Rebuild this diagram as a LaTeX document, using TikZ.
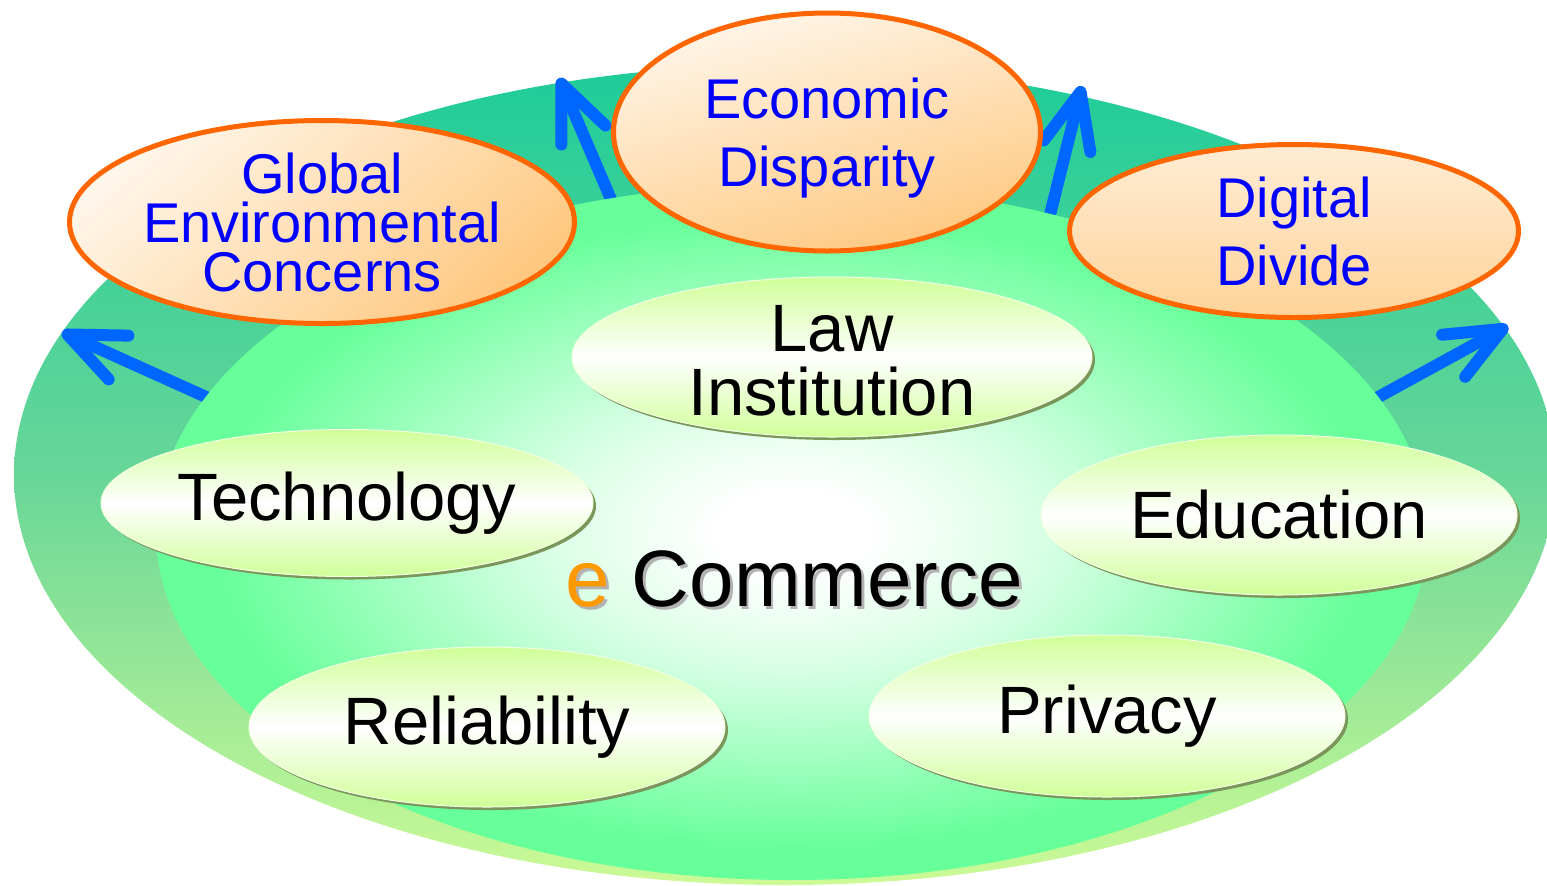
\documentclass[tikz,border=0pt]{standalone}
\usepackage{fontspec}
\setmainfont{Liberation Sans}
\usetikzlibrary{shapes.geometric,arrows.meta,shadows}
\definecolor{ringtop}{RGB}{30,204,153}
\definecolor{ringmid}{RGB}{104,214,152}
\definecolor{ringbot}{RGB}{204,250,150}
\definecolor{coregreen}{RGB}{102,255,153}
\definecolor{corepale}{RGB}{215,255,228}
\definecolor{podlime}{RGB}{208,255,153}
\definecolor{podrim}{RGB}{122,150,90}
\definecolor{issueline}{RGB}{255,102,0}
\definecolor{issuefill}{RGB}{255,200,128}
\definecolor{issuelight}{RGB}{255,246,234}
\definecolor{issueblue}{RGB}{0,0,255}
\definecolor{pushblue}{RGB}{0,102,255}
\definecolor{eorange}{RGB}{255,153,0}
\pgfdeclareradialshading{corebloom}{\pgfpoint{0bp}{0bp}}{color(0bp)=(white); color(3bp)=(white); color(10bp)=(corepale); color(23bp)=(coregreen); color(50bp)=(coregreen)}

\begin{document}
\begin{tikzpicture}[x=0.5pt,y=0.5pt,yscale=-1,
    blob/.style={ellipse,inner sep=0pt},
    pod/.style={blob,draw=white!70!podlime,line width=0.5pt,top color=podlime,bottom color=podlime,middle color=white,
      drop shadow={shadow xshift=1.5pt,shadow yshift=-1.5pt,fill=podrim,opacity=1}},
    issue/.style={blob,draw=issueline,line width=2.5pt},
    podtxt/.style={align=center,font=\fontsize{33.5}{32}\selectfont},
    issuetxt/.style={align=center,text=issueblue,font=\fontsize{28}{34}\selectfont},
    push/.style={draw=pushblue,line width=6pt,-{Straight Barb[length=28pt,width=24pt,round]}}]
\useasboundingbox (0,0) rectangle (1547,885);

\node[blob,minimum width=771pt,minimum height=410pt,top color=ringtop,bottom color=ringbot,middle color=ringmid] (ring) at (785,475) {};

\coordinate (lftail) at (235,410);  \coordinate (lfhead) at (62,332);
\coordinate (tltail) at (616,211);  \coordinate (tlhead) at (559,78);
\coordinate (trtail) at (1045,235); \coordinate (trhead) at (1082,86);
\coordinate (rttail) at (1340,418); \coordinate (rthead) at (1508,326);
\draw[push] (lftail) -- (lfhead);
\draw[push] (tltail) -- (tlhead);
\draw[push] (trtail) -- (trhead);
\draw[push] (rttail) -- (rthead);

\node[blob,minimum width=636pt,minimum height=348pt,shading=corebloom] (core) at (792,532) {};

\node[pod,minimum width=260pt,minimum height=80pt] (law) at (832,357) {};
\node[pod,minimum width=246pt,minimum height=73.5pt] (tech) at (347,503) {};
\node[pod,minimum width=238pt,minimum height=80pt] (edu) at (1279,515) {};
\node[pod,minimum width=238pt,minimum height=80pt] (rel) at (487,727) {};
\node[pod,minimum width=238pt,minimum height=81pt] (priv) at (1107,716) {};
\node[podtxt] (law-t) at ([yshift=2pt]law) {Law\\Institution};
\node[podtxt] (tech-t) at (tech) {Technology};
\node[podtxt] (edu-t) at (edu) {Education};
\node[podtxt] (rel-t) at (rel) {Reliability};
\node[podtxt] (priv-t) at (priv) {Privacy};

\node[font=\fontsize{40}{48}\selectfont,text=black!30,anchor=base] (brand-sh) at (797,609) {e Commerce};
\node[font=\fontsize{40}{48}\selectfont,anchor=base] (brand) at (794,606) {\textcolor{eorange}{e} Commerce};

\node[issue,minimum width=252.5pt,minimum height=101.5pt,top color=issuelight,bottom color=issuefill,shading angle=40] (gec) at (322,222) {};
\node[issue,minimum width=213.5pt,minimum height=119pt,top color=issuelight,bottom color=issuefill,shading angle=15] (eco) at (827,132) {};
\node[issue,minimum width=224.5pt,minimum height=86.5pt,top color=issuelight!80!issuefill,bottom color=issuefill!80!white] (dig) at (1294,231) {};
\node[issuetxt,font=\fontsize{28}{24.5}\selectfont] (gec-t) at (gec) {Global\\Environmental\\Concerns};
\node[issuetxt] (eco-t) at ([yshift=3pt]eco) {Economic\\Disparity};
\node[issuetxt] (dig-t) at (dig) {Digital\\Divide};
\end{tikzpicture}
\end{document}
